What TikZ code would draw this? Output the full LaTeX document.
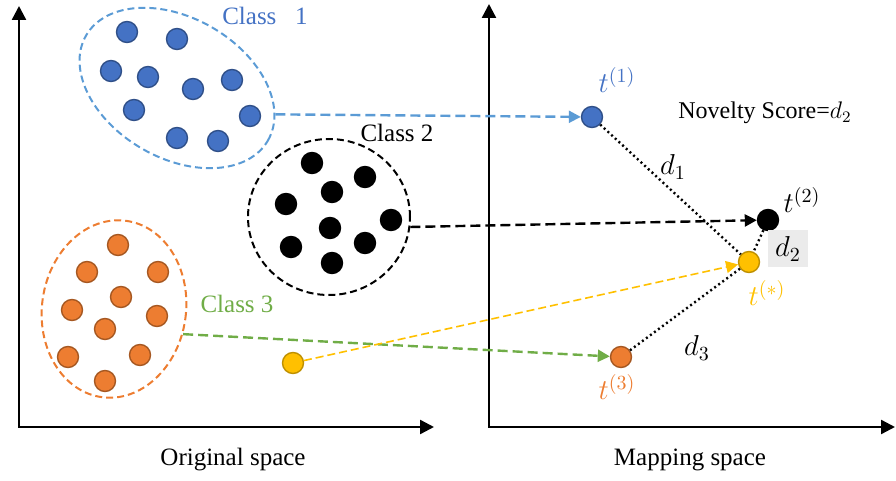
\documentclass[tikz,border=0pt]{standalone}
\usepackage{fontspec}
\setmainfont{Liberation Serif}
\usetikzlibrary{arrows.meta,shapes.geometric,positioning}
\definecolor{DotBlue}{RGB}{68,114,196}
\definecolor{LineBlue}{RGB}{91,155,213}
\definecolor{DotOrange}{RGB}{237,125,49}
\definecolor{LineGreen}{RGB}{112,173,71}
\definecolor{DotYellow}{RGB}{255,192,0}
\tikzset{
  dot/.style={circle, inner sep=0pt, minimum size=10.5pt, line width=0.7pt},
  bluedot/.style={dot, fill=DotBlue, draw=DotBlue!70!black},
  blackdot/.style={dot, fill=black, draw=black},
  orangedot/.style={dot, fill=DotOrange, draw=DotOrange!70!black},
  yellowdot/.style={dot, fill=DotYellow, draw=DotYellow!75!black},
  clsbound/.style={ellipse, line width=1pt, dash pattern=on 3.5pt off 2pt, inner sep=0pt},
  axis/.style={{Triangle[length=7pt,width=7pt]}-{Triangle[length=7pt,width=7pt]}, line width=1.2pt},
  maparr/.style={-{Triangle[length=6pt,width=6pt]}, line width=1.2pt, dash pattern=on 5pt off 2.5pt},
  distline/.style={line width=1.2pt, dash pattern=on 1pt off 1.5pt},
  lbl/.style={font=\fontsize{12.5}{15}\selectfont, inner sep=1pt},
  mlbl/.style={font=\fontsize{14.5}{17}\selectfont, inner sep=1pt},
}
\begin{document}
\begin{tikzpicture}[x=0.5pt, y=-0.5pt]
  \useasboundingbox (0,0) rectangle (896,481);
  % axes
  \coordinate (ytop1) at (19,6);
  \coordinate (xend1) at (434,427);
  \coordinate (ytop2) at (489,4);
  \coordinate (xend2) at (895,427);
  \draw[axis] (ytop1) |- (xend1);
  \draw[axis] (ytop2) |- (xend2);
  \node[lbl] (orig) at (233,460) {Original space};
  \node[lbl] (mapp) at (690,460) {Mapping space};

  % classes in the original space
  \node[clsbound, draw=LineBlue, rotate=-30, minimum width=105pt, minimum height=70pt] (c1) at (177,88) {};
  \node[clsbound, draw=black, minimum width=81pt, minimum height=78pt] (c2) at (329,217) {};
  \node[clsbound, draw=DotOrange, rotate=-8, minimum width=72pt, minimum height=89pt] (c3) at (114,309) {};
  \foreach \x/\y [count=\i] in {127/32, 177/39, 111/71, 148/77, 193/89, 232/80, 134/110, 250/116, 177/138, 218/141}
    \node[bluedot] (b\i) at (\x,\y) {};
  \foreach \x/\y [count=\i] in {312/163, 365/177, 332/192, 286/204, 391/220, 330/228, 291/247, 365/243, 332/263}
    \node[blackdot] (k\i) at (\x,\y) {};
  \foreach \x/\y [count=\i] in {118/245, 87/272, 158/272, 121/297, 72/310, 157/316, 105/329, 68/357, 140/355, 105/381}
    \node[orangedot] (o\i) at (\x,\y) {};
  \node[yellowdot] (ys) at (293,363) {};
  \node[lbl, text=DotBlue] (c1lbl) at (265,16) {Class~~~1};
  \node[lbl] (c2lbl) at (397,133) {Class 2};
  \node[lbl, text=LineGreen] (c3lbl) at (237,304) {Class 3};

  % mapped points
  \node[bluedot] (t1) at (592,117) {};
  \node[blackdot] (t2) at (768,220) {};
  \node[yellowdot] (ts) at (749,262) {};
  \node[orangedot] (t3) at (621,357) {};
  \node[mlbl, text=DotBlue] (t1lbl) at (617,80) {$t^{(1)}$};
  \node[mlbl] (t2lbl) at (802,200) {$t^{(2)}$};
  \node[mlbl, text=DotYellow] (tslbl) at (767,293) {$t^{(\ast)}$};
  \node[mlbl, text=DotOrange] (t3lbl) at (617,387) {$t^{(3)}$};
  \node[lbl, font=\fontsize{12}{14}\selectfont] (score) at (765,113) {Novelty Score=$d_2$};

  % mapping arrows
  \draw[maparr, LineBlue] (c1.15) -- (t1);
  \draw[maparr, black] (c2.-7) -- (t2);
  \draw[maparr, LineGreen] (c3.-12) -- (t3);
  \draw[maparr, DotYellow, line width=0.8pt, dash pattern=on 4pt off 2pt] (ys) -- (ts);

  % distances
  \draw[distline] (t1) -- (ts);
  \draw[distline] (t2) -- (ts);
  \draw[distline] (t3) -- (ts);
  \node[mlbl] (d1) at (673,167) {$d_1$};
  \node[mlbl, fill=black!8, minimum width=20pt, minimum height=18.5pt] (d2) at (788,249) {$d_2$};
  \node[mlbl] (d3) at (697,348) {$d_3$};
\end{tikzpicture}
\end{document}
